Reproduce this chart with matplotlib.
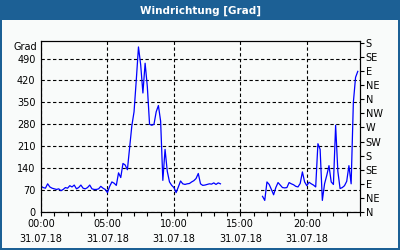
import matplotlib
matplotlib.use("Agg")
import matplotlib.pyplot as plt
import matplotlib.patches as mpatches
import matplotlib.transforms as mtransforms
import numpy as np

plt.rcParams.update({
    'font.family': 'DejaVu Sans',
    'font.size': 7,
})

# wind direction in degrees, one value every 10 minutes (nan = no data)
nan = np.nan
hours = np.arange(144) / 6.0
direction = [
    82, 78, 76, 90, 80, 76, 74, 72, 74, 68, 72, 78, 76, 84, 80,
    86, 74, 78, 86, 76, 74, 78, 86, 74, 72, 72, 74, 82, 76, 72,
    62, 82, 96, 92, 85, 125,
    110, 155, 150, 135, 205, 275,
    320, 420, 527, 470, 380, 475,
    400, 280, 277, 280, 320, 340,
    290, 101, 200, 130, 96, 85,
    78, 62, 80, 99, 90, 88,
    90, 91, 96, 100, 107, 123,
    90, 85, 86, 88, 90, 89,
    93, 88, 93, 90, nan, nan,
    nan, nan, nan, nan, nan, nan,
    nan, nan, nan, nan, nan, nan,
    nan, nan, nan, nan, 50, 37,
    96, 88, 72, 55, 78, 94,
    86, 78, 77, 78, 94, 90,
    87, 82, 80, 91, 128, 96,
    84, 95, 90, 86, 80, 218,
    200, 37, 90, 117, 148, 96,
    88, 277, 130, 75, 78, 84,
    98, 148, 90, 350, 430, 449,
]

left_ticks = [0, 70, 140, 210, 280, 350, 420, 490]
compass_ticks = [0, 45, 90, 135, 180, 225, 270, 315, 360, 405, 450, 495, 540]
compass_labels = ['N', 'NE', 'E', 'SE', 'S', 'SW', 'W', 'NW',
                  'N', 'NE', 'E', 'SE', 'S']
x_ticks = [0, 5, 10, 15, 20]
x_labels = ['00:00\n31.07.18', '05:00\n31.07.18', '10:00\n31.07.18',
            '15:00\n31.07.18', '20:00\n31.07.18']

BORDER = '#1c6095'
PANEL = '#f9fbfa'

fig = plt.figure(figsize=(4.0, 2.5), dpi=100)
fig.patch.set_facecolor(BORDER)
fig.add_artist(mpatches.Rectangle((2 / 400, 2 / 250), 396 / 400, 228 / 250,
                                  transform=fig.transFigure, facecolor=PANEL,
                                  edgecolor='none', zorder=0))
fig.text(0.5, 1 - 10.5 / 250, 'Windrichtung [Grad]', color='white',
         fontsize=7.5, fontweight='bold', ha='center', va='center')

ax = fig.add_axes([41 / 400, 1 - 212 / 250, 319 / 400, 171 / 250])
ax.set_facecolor(PANEL)
ax.plot(hours, direction, color='#0000ff', lw=0.9, zorder=3)

ax.set_xlim(0, 24)
ax.set_ylim(0, 546)
ax.set_yticks(left_ticks)
ax.tick_params(axis='y', length=0, pad=4, labelsize=7)
ax.set_xticks(x_ticks)
ax.set_xticklabels(x_labels, linespacing=1.6)
ax.set_xticks(np.arange(0, 25, 1), minor=True)
ax.tick_params(axis='x', which='both', direction='out', length=3, width=0.8,
               pad=2, labelsize=7)
ax.grid(True, color='black', lw=0.8, linestyle=(0, (3, 2.2)))
ax.set_axisbelow(True)
for s in ax.spines.values():
    s.set_linewidth(0.8)

trans = mtransforms.blended_transform_factory(ax.transAxes, ax.transData)
ax.text(-0.012, 527, 'Grad', transform=trans, ha='right', va='center', fontsize=7)

ax2 = ax.twinx()
ax2.set_ylim(0, 546)
ax2.set_yticks(compass_ticks)
ax2.set_yticklabels(compass_labels)
ax2.tick_params(axis='y', direction='out', length=3, width=0.8, pad=1, labelsize=7)
for s in ax2.spines.values():
    s.set_linewidth(0.8)

fig.savefig('out.png', dpi=100, facecolor=fig.get_facecolor())
